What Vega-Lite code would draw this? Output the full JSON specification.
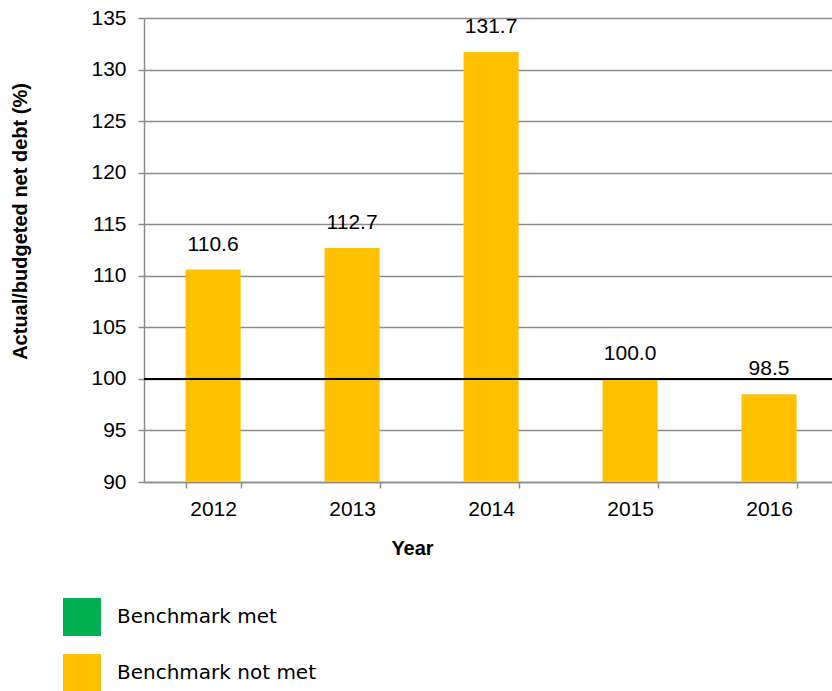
{
  "$schema": "https://vega.github.io/schema/vega-lite/v6.json",
  "width": 688,
  "height": 464,
  "autosize": "none",
  "padding": {"left": 144, "top": 18, "right": 0, "bottom": 209},
  "background": "white",
  "config": {
    "view": {"stroke": null},
    "font": "Liberation Sans"
  },
  "data": {
    "values": [
      {"year": "2012", "value": 110.6, "status": "Benchmark not met"},
      {"year": "2013", "value": 112.7, "status": "Benchmark not met"},
      {"year": "2014", "value": 131.7, "status": "Benchmark not met"},
      {"year": "2015", "value": 100.0, "status": "Benchmark not met"},
      {"year": "2016", "value": 98.5, "status": "Benchmark not met"}
    ]
  },
  "layer": [
    {
      "mark": {"type": "bar", "color": "#FFC000"},
      "encoding": {
        "x": {
          "field": "year",
          "type": "ordinal",
          "scale": {"paddingInner": 0.604, "paddingOuter": 0.277, "align": 0.54},
          "axis": {
            "title": "Year",
            "labelAngle": 0,
            "labelFont": "Liberation Sans",
            "labelFontSize": 21,
            "labelColor": "#000000",
            "labelPadding": 10,
            "tickBand": "extent",
            "tickSize": 6,
            "tickColor": "#8C8C8C",
            "tickWidth": 1.5,
            "domainColor": "#8C8C8C",
            "domainWidth": 1.5,
            "titleFont": "Liberation Sans",
            "titleFontWeight": "bold",
            "titleFontSize": 20,
            "titleColor": "#000000",
            "titleX": 268,
            "titleY": 66,
            "titleAlign": "center",
            "titleBaseline": "middle"
          }
        },
        "y": {
          "field": "value",
          "type": "quantitative",
          "scale": {"domain": [90, 135], "nice": false, "zero": false},
          "axis": {
            "title": "Actual/budgeted net debt (%)",
            "values": [90, 95, 100, 105, 110, 115, 120, 125, 130, 135],
            "grid": true,
            "gridColor": "#8C8C8C",
            "gridWidth": 1.5,
            "tickSize": 6,
            "tickColor": "#8C8C8C",
            "tickWidth": 1.5,
            "domainColor": "#8C8C8C",
            "domainWidth": 1.5,
            "labelFont": "Liberation Sans",
            "labelFontSize": 21,
            "labelColor": "#000000",
            "labelPadding": 12,
            "titleFont": "Liberation Sans",
            "titleFontWeight": "bold",
            "titleFontSize": 20,
            "titleColor": "#000000",
            "titleAngle": -90,
            "titleX": -124,
            "titleY": 203,
            "titleAlign": "center",
            "titleBaseline": "middle"
          }
        },
        "y2": {"datum": 90},
        "color": {
          "field": "status",
          "type": "nominal",
          "scale": {
            "domain": ["Benchmark met", "Benchmark not met"],
            "range": ["#00B050", "#FFC000"]
          },
          "legend": {
            "title": null,
            "orient": "none",
            "legendX": -81,
            "legendY": 580,
            "padding": 0,
            "symbolType": "square",
            "symbolSize": 1444,
            "symbolStrokeWidth": 0,
            "symbolOpacity": 1,
            "labelFont": "DejaVu Sans",
            "labelFontSize": 20,
            "labelColor": "#000000",
            "labelOffset": 16,
            "labelLimit": 400,
            "labelBaseline": "middle",
            "labelAlign": "left",
            "rowPadding": 18
          }
        }
      }
    },
    {
      "mark": {"type": "text", "dy": -25, "baseline": "middle", "align": "center", "font": "Liberation Sans", "fontSize": 21, "color": "#000000"},
      "encoding": {
        "x": {"field": "year", "type": "ordinal"},
        "y": {"field": "value", "type": "quantitative"},
        "text": {"field": "value", "type": "quantitative", "format": ".1f"}
      }
    },
    {
      "data": {"values": [{"benchmark": 100}]},
      "mark": {"type": "rule", "color": "#000000", "strokeWidth": 2},
      "encoding": {
        "y": {"field": "benchmark", "type": "quantitative"}
      }
    }
  ]
}
